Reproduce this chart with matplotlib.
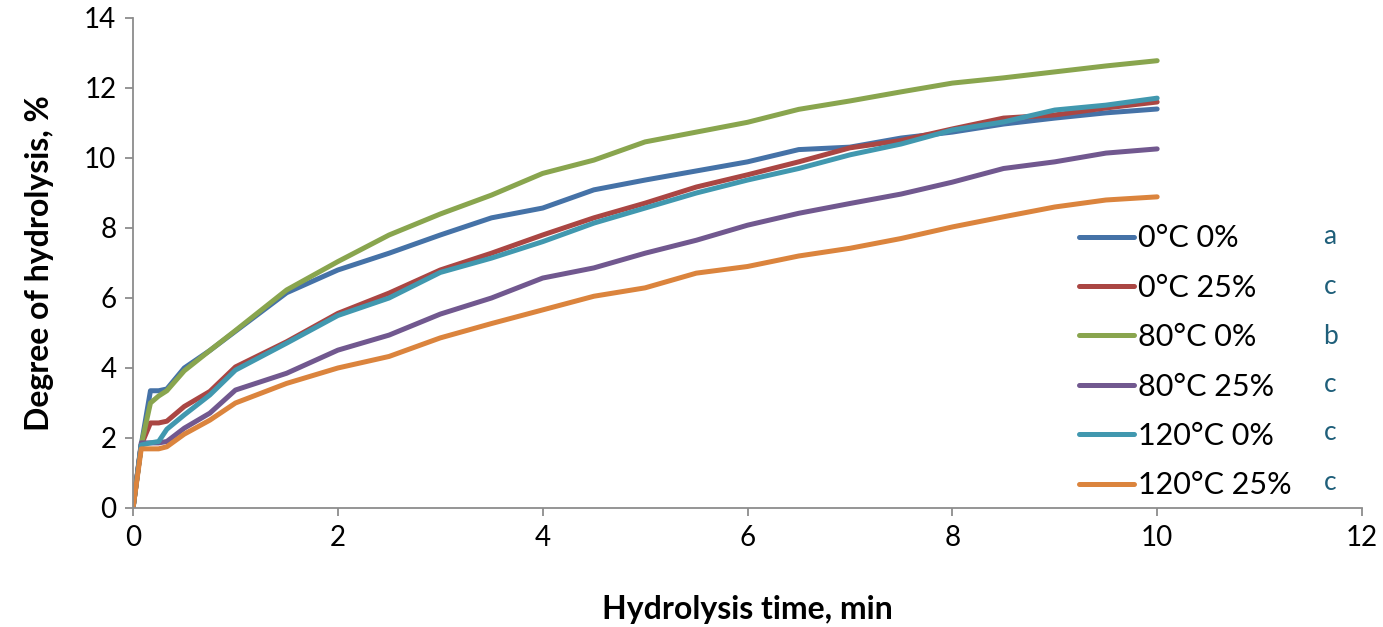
import matplotlib
matplotlib.use("Agg")
import matplotlib.pyplot as plt

plt.rcParams['font.family'] = ['Lato', 'DejaVu Sans']

# time, min
t = [0, 0.08, 0.17, 0.25, 0.33, 0.5, 0.75, 1, 1.5, 2, 2.5, 3, 3.5, 4, 4.5,
     5, 5.5, 6, 6.5, 7, 7.5, 8, 8.5, 9, 9.5, 10]

# degree of hydrolysis, %
dh_0c_0 = [0, 1.8, 3.35, 3.35, 3.4, 4.0, 4.5, 5.05, 6.15, 6.8, 7.28, 7.8, 8.29,
           8.57, 9.09, 9.37, 9.63, 9.89, 10.24, 10.31, 10.57, 10.74, 10.97,
           11.14, 11.29, 11.4]
dh_0c_25 = [0, 1.8, 2.43, 2.43, 2.48, 2.9, 3.33, 4.03, 4.75, 5.56, 6.14, 6.8,
            7.28, 7.8, 8.29, 8.71, 9.17, 9.52, 9.89, 10.29, 10.5, 10.83, 11.14,
            11.23, 11.43, 11.6]
dh_80c_0 = [0, 1.8, 3.0, 3.2, 3.35, 3.92, 4.5, 5.07, 6.23, 7.04, 7.8, 8.4, 8.94,
            9.56, 9.94, 10.46, 10.74, 11.02, 11.39, 11.63, 11.89, 12.14, 12.29,
            12.46, 12.63, 12.78]
dh_80c_25 = [0, 1.86, 1.86, 1.86, 1.9, 2.28, 2.71, 3.37, 3.85, 4.51, 4.94, 5.54,
             6.0, 6.57, 6.86, 7.28, 7.65, 8.08, 8.42, 8.7, 8.97, 9.31, 9.7,
             9.89, 10.14, 10.26]
dh_120c_0 = [0, 1.8, 1.86, 1.9, 2.25, 2.66, 3.23, 3.94, 4.71, 5.5, 6.0, 6.73,
             7.14, 7.61, 8.14, 8.57, 9.0, 9.37, 9.7, 10.09, 10.4, 10.8, 11.03,
             11.37, 11.51, 11.71]
dh_120c_25 = [0, 1.69, 1.69, 1.69, 1.75, 2.11, 2.51, 3.0, 3.56, 4.0, 4.33, 4.86,
              5.27, 5.66, 6.05, 6.29, 6.71, 6.9, 7.2, 7.42, 7.7, 8.03, 8.32,
              8.6, 8.8, 8.89]

labels = ["0°C 0%", "0°C 25%", "80°C 0%", "80°C 25%", "120°C 0%", "120°C 25%"]
letters = ["a", "c", "b", "c", "c", "c"]
series = [dh_0c_0, dh_0c_25, dh_80c_0, dh_80c_25, dh_120c_0, dh_120c_25]
colors = ["#4572a7", "#aa4643", "#89a54e", "#71588f", "#4198af", "#db843d"]

fig = plt.figure(figsize=(13.83, 6.27), dpi=100)
ax = fig.add_axes([0.0962, 0.1898, 0.8886, 0.7815])

for y, lab, c in zip(series, labels, colors):
    ax.plot(t, y, color=c, linewidth=3.6, label=lab, solid_capstyle='round',
            solid_joinstyle='round')

ax.set_xlim(0, 12)
ax.set_ylim(0, 14)
ax.set_xticks(range(0, 13, 2))
ax.set_yticks(range(0, 15, 2))

for s in ['top', 'right']:
    ax.spines[s].set_visible(False)
for s in ['left', 'bottom']:
    ax.spines[s].set_color('#8c8c8c')
    ax.spines[s].set_linewidth(1.3)
ax.tick_params(direction='out', length=6, width=1.3, color='#8c8c8c',
               labelsize=20, pad=6)

ax.set_xlabel("Hydrolysis time, min", fontsize=23, fontweight='bold', labelpad=32)
ax.set_ylabel("Degree of hydrolysis, %", fontsize=23, fontweight='bold', labelpad=22)

leg = ax.legend(loc='upper left', bbox_to_anchor=(0.757, 0.61), frameon=False,
                fontsize=22, handlelength=1.8, handletextpad=0.15,
                labelspacing=0.7, borderpad=0)
for ln in leg.get_lines():
    ln.set_linewidth(3.6)

row_y = [0.555, 0.453, 0.351, 0.253, 0.155, 0.053]
for yy, let in zip(row_y, letters):
    ax.text(0.974, yy, let, transform=ax.transAxes, color='#1f5f7a',
            fontsize=19, ha='center', va='center')

fig.savefig("out.png", dpi=100)
